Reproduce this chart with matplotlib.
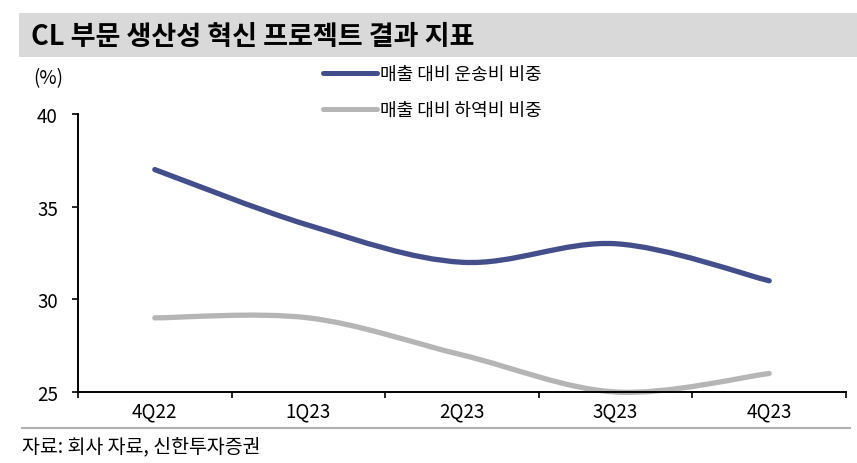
import numpy as np
import matplotlib.pyplot as plt
from matplotlib.path import Path
from matplotlib.patches import PathPatch, Rectangle
from matplotlib.lines import Line2D

plt.rcParams['font.family'] = ['Noto Sans CJK KR', 'DejaVu Sans']

# Data
quarters = ['4Q22', '1Q23', '2Q23', '3Q23', '4Q23']
freight_ratio = [37, 34, 32, 33, 31]      # 매출 대비 운송비 비중
subcontract_ratio = [29, 29, 27, 25, 26]  # 매출 대비 하역비 비중
series_names = ['매출 대비 운송비 비중', '매출 대비 하역비 비중']
yticks = [25, 30, 35, 40]

blue = '#434E8A'
grey = '#B5B5B5'


def smooth_path(xs, ys):
    # Excel-style smoothed line: cubic Bezier through each point
    pts = np.column_stack([xs, ys]).astype(float)
    n = len(pts)
    verts = [pts[0]]
    codes = [Path.MOVETO]
    for i in range(n - 1):
        p0 = pts[i - 1] if i > 0 else pts[i]
        p1 = pts[i]
        p2 = pts[i + 1]
        p3 = pts[i + 2] if i + 2 < n else pts[i + 1]
        c1 = p1 + (p2 - p0) / 6
        c2 = p2 - (p3 - p1) / 6
        verts += [c1, c2, p2]
        codes += [Path.CURVE4] * 3
    return Path(verts, codes)


fig = plt.figure(figsize=(8.57, 4.64), dpi=100)
ax = fig.add_axes([78 / 857, 71 / 464, 768 / 857, 278 / 464])

x = np.arange(len(quarters))
for vals, col in [(subcontract_ratio, grey), (freight_ratio, blue)]:
    ax.add_patch(PathPatch(smooth_path(x, vals), facecolor='none', edgecolor=col,
                           lw=3.8, capstyle='round', clip_on=False))

ax.set_xlim(-0.5, len(quarters) - 0.5)
ax.set_ylim(25, 40)
ax.set_yticks(yticks)
ax.set_yticklabels([str(v) for v in yticks], fontsize=13.5)
ax.set_xticks(np.arange(-0.5, len(quarters), 1))
ax.set_xticklabels([])
ax.set_xticks(x, minor=True)
ax.set_xticklabels(quarters, minor=True, fontsize=13.5)
ax.tick_params(axis='x', which='major', direction='out', length=4, width=1.2)
ax.tick_params(axis='x', which='minor', length=0, pad=6)
ax.tick_params(axis='y', direction='out', length=4.5, width=1.2, pad=10)
for s in ['top', 'right']:
    ax.spines[s].set_visible(False)
for s in ['left', 'bottom']:
    ax.spines[s].set_linewidth(1.4)

ax.text(-0.058, 1.13, '(%)', transform=ax.transAxes, fontsize=13.5, ha='left', va='center')

# Legend
handles = [Line2D([], [], color=blue, lw=3.6, solid_capstyle='round'),
           Line2D([], [], color=grey, lw=3.6, solid_capstyle='round')]
fig.legend(handles, series_names, loc='upper left', bbox_to_anchor=(323 / 857, 1 - 66 / 464),
           frameon=False, fontsize=13, handlelength=3.0, handletextpad=0.15,
           labelspacing=1.0, borderpad=0, borderaxespad=0)

# Title bar
fig.patches.append(Rectangle((19 / 857, 1 - 58 / 464), 1, 44 / 464, transform=fig.transFigure,
                             facecolor='#D9D9D9', edgecolor='none', zorder=0))
fig.text(31 / 857, 1 - 37 / 464, 'CL 부문 생산성 혁신 프로젝트 결과 지표', fontsize=19.5,
         fontweight='bold', ha='left', va='center')

# Footer
fig.add_artist(Line2D([22 / 857, 850 / 857], [1 - 429 / 464] * 2, color='#B0B0B0', lw=1.5))
fig.text(22 / 857, 1 - 447 / 464, '자료: 회사 자료, 신한투자증권', fontsize=14, ha='left', va='center')

fig.savefig('out.png', dpi=100)
